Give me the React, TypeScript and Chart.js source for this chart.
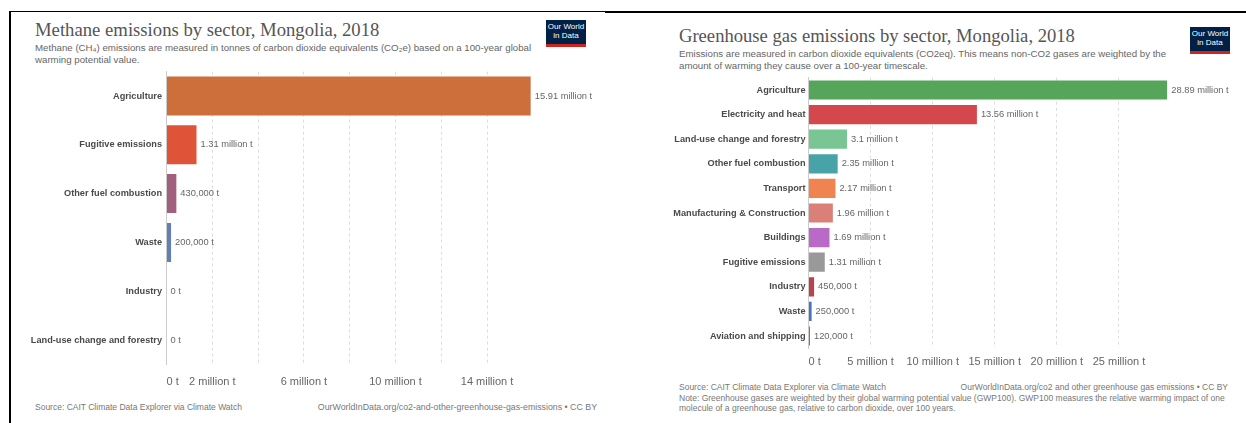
import React, { useEffect, useRef } from 'react';
import { Chart, registerables } from 'chart.js';

Chart.register(...registerables);

// ---------- Data: Methane emissions by sector, Mongolia, 2018 ----------
const methaneSectors = [
  'Agriculture',
  'Fugitive emissions',
  'Other fuel combustion',
  'Waste',
  'Industry',
  'Land-use change and forestry',
];
const methaneValues = [15910000, 1310000, 430000, 200000, 0, 0];
const methaneColors = ['#cc6f3a', '#df5339', '#a2607f', '#6580b0', '#b8434d', '#7ac594'];
const methaneGridTicks = [0, 2e6, 4e6, 6e6, 8e6, 10e6, 12e6, 14e6];
const methaneLabelTicks = [0, 2e6, 6e6, 10e6, 14e6];

// ---------- Data: Greenhouse gas emissions by sector, Mongolia, 2018 ----------
const ghgSectors = [
  'Agriculture',
  'Electricity and heat',
  'Land-use change and forestry',
  'Other fuel combustion',
  'Transport',
  'Manufacturing & Construction',
  'Buildings',
  'Fugitive emissions',
  'Industry',
  'Waste',
  'Aviation and shipping',
];
const ghgValues = [28890000, 13560000, 3100000, 2350000, 2170000, 1960000, 1690000, 1310000, 450000, 250000, 120000];
const ghgColors = [
  '#55a65b',
  '#d4474c',
  '#7ac594',
  '#48a3a9',
  '#f08450',
  '#db7f79',
  '#b86ac6',
  '#999999',
  '#b8434d',
  '#4a6fc8',
  '#6b7a99',
];
const ghgGridTicks = [0, 5e6, 10e6, 15e6, 20e6, 25e6];
const ghgLabelTicks = [0, 5e6, 10e6, 15e6, 20e6, 25e6];

const SANS = '"Liberation Sans", Arial, Helvetica, sans-serif';
const SERIF = '"Liberation Serif", Georgia, "Times New Roman", serif';

function formatValue(v: number): string {
  if (v >= 1e6) {
    const s = (v / 1e6).toFixed(2).replace(/\.?0+$/, '');
    return `${s} million t`;
  }
  return `${v.toLocaleString('en-US')} t`;
}

function formatTick(v: number): string {
  if (v === 0) return '    0 t';
  return `${v / 1e6} million t`;
}

const valueLabelPlugin = {
  id: 'valueLabels',
  afterDatasetsDraw(chart: any) {
    const ctx = chart.ctx;
    const meta = chart.getDatasetMeta(0);
    const data = chart.data.datasets[0].data as number[];
    ctx.save();
    ctx.font = `9.3px ${SANS}`;
    ctx.fillStyle = '#666666';
    ctx.textAlign = 'left';
    ctx.textBaseline = 'middle';
    meta.data.forEach((el: any, i: number) => {
      ctx.fillText(formatValue(data[i]), el.x + 4, el.y);
    });
    ctx.restore();
  },
};

interface Cfg {
  labels: string[];
  values: number[];
  colors: string[];
  gridTicks: number[];
  labelTicks: number[];
  yWidth: number;
  xHeight: number;
  padding: { top: number; right: number; bottom: number; left: number };
  barRatio: number;
  tickPad: number;
  catPad: number;
}

function makeConfig(c: Cfg): any {
  const max = Math.max(...c.values);
  return {
    type: 'bar',
    data: {
      labels: c.labels,
      datasets: [
        {
          data: c.values,
          backgroundColor: c.colors,
          borderWidth: 0,
          barPercentage: c.barRatio,
          categoryPercentage: 1,
        },
      ],
    },
    plugins: [valueLabelPlugin],
    options: {
      indexAxis: 'y',
      responsive: false,
      maintainAspectRatio: false,
      animation: false,
      devicePixelRatio: 1,
      layout: { padding: c.padding },
      plugins: {
        legend: { display: false },
        tooltip: { enabled: false },
        title: { display: false },
      },
      scales: {
        x: {
          type: 'linear',
          min: 0,
          max,
          afterBuildTicks: (s: any) => {
            s.ticks = c.gridTicks.map((v) => ({ value: v }));
          },
          afterFit: (s: any) => {
            s.height = c.xHeight;
          },
          grid: {
            drawTicks: false,
            lineWidth: 1,
            color: (ctx: any) => (ctx.tick && ctx.tick.value === 0 ? 'rgba(0,0,0,0)' : '#dddddd'),
          },
          border: { display: false, dash: [3, 3] },
          ticks: {
            autoSkip: false,
            maxRotation: 0,
            minRotation: 0,
            padding: c.tickPad,
            color: '#666666',
            font: { family: SANS, size: 11 },
            callback: (v: any) => (c.labelTicks.includes(Number(v)) ? formatTick(Number(v)) : ''),
          },
        },
        y: {
          afterFit: (s: any) => {
            s.width = c.yWidth;
          },
          grid: { display: false, drawTicks: false },
          border: { display: true, color: '#cccccc', width: 1 },
          ticks: {
            autoSkip: false,
            padding: c.catPad,
            color: '#4a4a4a',
            font: { family: SANS, size: 9.2, weight: 'bold' },
          },
        },
      },
    },
  };
}

function BarChart(props: { cfg: Cfg; style: React.CSSProperties; width: number; height: number }) {
  const ref = useRef<HTMLCanvasElement | null>(null);
  useEffect(() => {
    if (!ref.current) return;
    const chart = new Chart(ref.current, makeConfig(props.cfg));
    return () => chart.destroy();
  }, []);
  return (
    <canvas
      ref={ref}
      width={props.width}
      height={props.height}
      style={{ position: 'absolute', width: props.width, height: props.height, ...props.style }}
    />
  );
}

function Logo(props: { left: number; top: number }) {
  return (
    <div
      style={{
        position: 'absolute',
        left: props.left,
        top: props.top,
        width: 40,
        height: 22,
        background: '#002147',
        borderBottom: '3px solid #ce261e',
        color: '#ffffff',
        fontFamily: SANS,
        fontSize: 8,
        lineHeight: '9px',
        textAlign: 'center',
        paddingTop: 2,
        boxSizing: 'content-box',
      }}
    >
      Our World
      <br />
      in Data
    </div>
  );
}

const abs = (s: React.CSSProperties): React.CSSProperties => ({ position: 'absolute', whiteSpace: 'nowrap', ...s });

export default function App() {
  const methaneCfg: Cfg = {
    labels: methaneSectors,
    values: methaneValues,
    colors: methaneColors,
    gridTicks: methaneGridTicks,
    labelTicks: methaneLabelTicks,
    yWidth: 156.5,
    xHeight: 30,
    padding: { top: 11.6, right: 79.2, bottom: 5.6, left: 0 },
    barRatio: 0.8,
    tickPad: 11,
    catPad: 4.5,
  };
  const ghgCfg: Cfg = {
    labels: ghgSectors,
    values: ghgValues,
    colors: ghgColors,
    gridTicks: ghgGridTicks,
    labelTicks: ghgLabelTicks,
    yWidth: 158.5,
    xHeight: 26,
    padding: { top: 12.7, right: 78.7, bottom: 0.7, left: 0 },
    barRatio: 0.78,
    tickPad: 7,
    catPad: 3,
  };

  return (
    <div
      style={{
        position: 'fixed',
        left: 0,
        top: 0,
        width: 1246,
        height: 423,
        background: '#ffffff',
        overflow: 'hidden',
        fontFamily: SANS,
      }}
    >
      {/* frame lines */}
      <div style={abs({ left: 9, top: 11, width: 2, height: 412, background: '#000' })} />
      <div style={abs({ left: 9, top: 11, width: 597, height: 1, background: '#000' })} />
      <div style={abs({ left: 605, top: 11, width: 641, height: 2, background: '#000' })} />

      {/* Left chart header */}
      <div style={abs({ left: 35, top: 19, fontFamily: SERIF, fontSize: 18.7, lineHeight: '22px', color: '#555555' })}>
        Methane emissions by sector, Mongolia, 2018
      </div>
      <div style={abs({ left: 35, top: 41.5, fontSize: 9.7, lineHeight: '12px', color: '#666666' })}>
        Methane (CH₄) emissions are measured in tonnes of carbon dioxide equivalents (CO₂e) based on a 100-year global
        <br />
        warming potential value.
      </div>
      <Logo left={546} top={20} />

      <BarChart cfg={methaneCfg} width={600} height={340} style={{ left: 10, top: 60 }} />

      <div style={abs({ left: 35, top: 402, fontSize: 8.5, lineHeight: '10px', color: '#777777' })}>
        Source: CAIT Climate Data Explorer via Climate Watch
      </div>
      <div style={abs({ right: 1246 - 597, top: 402, fontSize: 8.8, lineHeight: '10px', color: '#777777', textAlign: 'right' })}>
        OurWorldInData.org/co2-and-other-greenhouse-gas-emissions • CC BY
      </div>

      {/* Right chart header */}
      <div style={abs({ left: 679, top: 25, fontFamily: SERIF, fontSize: 18.6, lineHeight: '22px', color: '#555555' })}>
        Greenhouse gas emissions by sector, Mongolia, 2018
      </div>
      <div style={abs({ left: 679, top: 48, fontSize: 9.7, lineHeight: '12px', color: '#666666' })}>
        Emissions are measured in carbon dioxide equivalents (CO2eq). This means non-CO2 gases are weighted by the
        <br />
        amount of warming they cause over a 100-year timescale.
      </div>
      <Logo left={1190} top={27} />

      <BarChart cfg={ghgCfg} width={596} height={310} style={{ left: 650, top: 65 }} />

      <div style={abs({ left: 679, top: 381.5, fontSize: 8.5, lineHeight: '10px', color: '#777777' })}>
        Source: CAIT Climate Data Explorer via Climate Watch
      </div>
      <div style={abs({ right: 1246 - 1228, top: 381.5, fontSize: 8.5, lineHeight: '10px', color: '#777777', textAlign: 'right' })}>
        OurWorldInData.org/co2 and other greenhouse gas emissions • CC BY
      </div>
      <div style={abs({ left: 679, top: 392.5, fontSize: 8.5, lineHeight: '10px', color: '#777777' })}>
        Note: Greenhouse gases are weighted by their global warming potential value (GWP100). GWP100 measures the relative warming impact of one
        <br />
        molecule of a greenhouse gas, relative to carbon dioxide, over 100 years.
      </div>
    </div>
  );
}
